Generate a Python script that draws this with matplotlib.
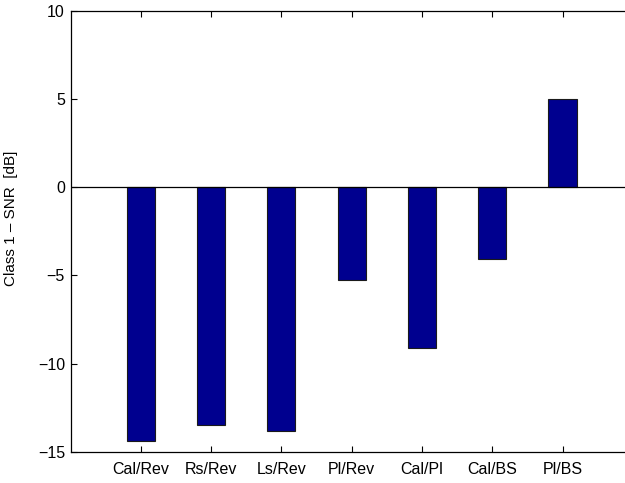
import matplotlib
matplotlib.use("Agg")
import matplotlib.pyplot as plt
import numpy as np

categories = ["Cal/Rev", "Rs/Rev", "Ls/Rev", "Pl/Rev", "Cal/Pl", "Cal/BS", "Pl/BS"]
snr_db = [-14.4, -13.45, -13.8, -5.27, -9.1, -4.08, 5.0]
y_ticks = [-15, -10, -5, 0, 5, 10]

plt.rcParams["font.family"] = ["Liberation Sans", "DejaVu Sans"]
plt.rcParams["font.size"] = 11.5

fig = plt.figure(figsize=(6.25, 4.83), dpi=100)
fig.patch.set_facecolor("white")
ax = fig.add_axes([0.1128, 0.0642, 0.8997, 0.9137])

x = np.arange(1, len(categories) + 1)
ax.bar(x, snr_db, width=0.4, color="#00008F", edgecolor="#1a1a1a",
       linewidth=0.8, zorder=2)
ax.axhline(0, color="black", linewidth=0.9, zorder=3)

ax.set_xlim(0, 8)
ax.set_ylim(-15, 10)
ax.set_xticks(x)
ax.set_xticklabels(categories)
ax.set_yticks(y_ticks)
ax.tick_params(direction="in", length=4.5, width=0.8, top=True, right=False,
               colors="black", labelsize=11.5)
ax.tick_params(axis="x", pad=7)
ax.tick_params(axis="y", pad=4)
for s in ax.spines.values():
    s.set_linewidth(0.9)
ax.spines["right"].set_visible(False)

ax.set_ylabel("Class 1 \u2013 SNR  [dB]", fontsize=11)
ax.yaxis.set_label_coords(-0.093, 0.53)

fig.savefig("out.png", dpi=100)
